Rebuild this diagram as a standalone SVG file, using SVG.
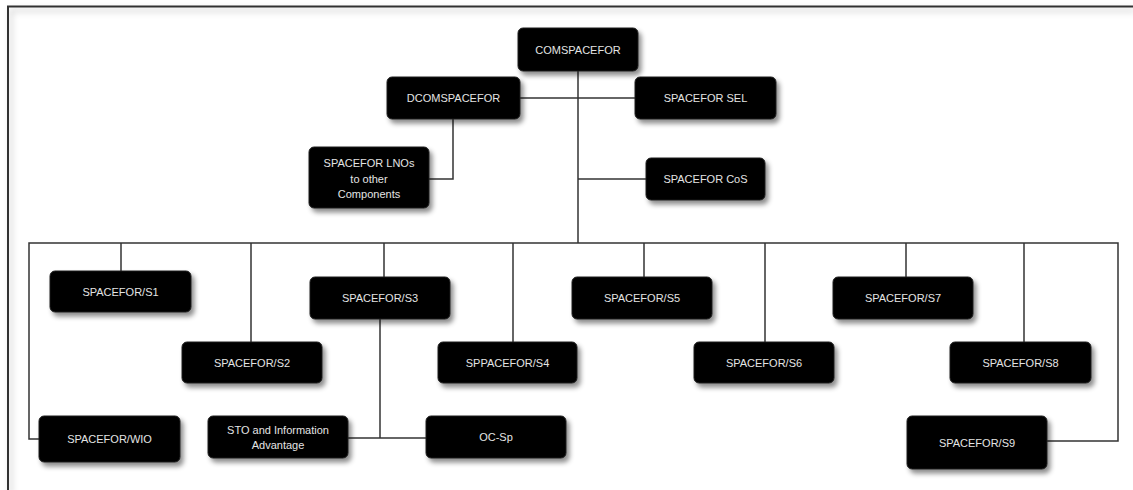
<svg xmlns="http://www.w3.org/2000/svg" width="1133" height="490" viewBox="0 0 1133 490">
<defs>
<filter id="sh" x="-20%" y="-30%" width="150%" height="180%">
<feDropShadow dx="3" dy="4" stdDeviation="2.5" flood-color="#000" flood-opacity="0.45"/>
</filter>
<filter id="fsh" x="-5%" y="-5%" width="110%" height="110%">
<feDropShadow dx="3" dy="4" stdDeviation="3" flood-color="#000" flood-opacity="0.25"/>
</filter>
</defs>
<style>
.box{fill:#000;stroke:#222;stroke-width:1;filter:url(#sh)}
.t{font-family:"Liberation Sans",Arial,sans-serif;font-size:11px;fill:#e4e4e4;text-anchor:middle}
.c{fill:none;stroke:#333;stroke-width:1.5}
</style>
<rect width="1133" height="490" fill="#fff"/>
<path d="M8,490 V6.5 H1133" fill="none" stroke="#333" stroke-width="2" filter="url(#fsh)"/>
<g id="connectors">
<path class="c" d="M578,71 V243"/>
<path class="c" d="M520,98 H635"/>
<path class="c" d="M453,119 V179 H429"/>
<path class="c" d="M578,179 H646"/>
<path class="c" d="M39,439 H29 V243 H1118 V441 H1047"/>
<path class="c" d="M121,243 V271"/>
<path class="c" d="M251,243 V342"/>
<path class="c" d="M384,243 V277"/>
<path class="c" d="M380,319 V438"/>
<path class="c" d="M348,438 H426"/>
<path class="c" d="M513,243 V342"/>
<path class="c" d="M644,243 V277"/>
<path class="c" d="M765,243 V342"/>
<path class="c" d="M906,243 V277"/>
<path class="c" d="M1024,243 V342"/>
</g>
<g id="comspacefor"><rect class="box" x="518" y="28" width="120" height="43" rx="5"/><text class="t" x="578" y="53.5">COMSPACEFOR</text></g>
<g id="dcomspacefor"><rect class="box" x="387" y="77" width="133" height="42" rx="5"/><text class="t" x="453.5" y="102">DCOMSPACEFOR</text></g>
<g id="spacefor-sel"><rect class="box" x="635" y="77" width="141" height="42" rx="5"/><text class="t" x="705.5" y="102">SPACEFOR SEL</text></g>
<g id="spacefor-lnos"><rect class="box" x="309" y="147" width="120" height="61" rx="5"/><text class="t" x="369" y="167">SPACEFOR LNOs</text><text class="t" x="369" y="182.5">to other</text><text class="t" x="369" y="198">Components</text></g>
<g id="spacefor-cos"><rect class="box" x="646" y="158" width="119" height="42" rx="5"/><text class="t" x="705.5" y="183">SPACEFOR CoS</text></g>
<g id="s1"><rect class="box" x="50" y="271" width="141" height="41" rx="5"/><text class="t" x="120.5" y="295.5">SPACEFOR/S1</text></g>
<g id="s2"><rect class="box" x="182" y="342" width="140" height="41" rx="5"/><text class="t" x="252" y="366.5">SPACEFOR/S2</text></g>
<g id="s3"><rect class="box" x="310" y="277" width="140" height="42" rx="5"/><text class="t" x="380" y="302">SPACEFOR/S3</text></g>
<g id="s4"><rect class="box" x="438" y="342" width="139" height="41" rx="5"/><text class="t" x="507.5" y="366.5">SPPACEFOR/S4</text></g>
<g id="s5"><rect class="box" x="572" y="277" width="140" height="42" rx="5"/><text class="t" x="642" y="302">SPACEFOR/S5</text></g>
<g id="s6"><rect class="box" x="694" y="342" width="140" height="41" rx="5"/><text class="t" x="764" y="366.5">SPACEFOR/S6</text></g>
<g id="s7"><rect class="box" x="833" y="277" width="140" height="42" rx="5"/><text class="t" x="903" y="302">SPACEFOR/S7</text></g>
<g id="s8"><rect class="box" x="950" y="342" width="141" height="41" rx="5"/><text class="t" x="1020.5" y="366.5">SPACEFOR/S8</text></g>
<g id="s9"><rect class="box" x="907" y="416" width="140" height="53" rx="5"/><text class="t" x="977" y="446.5">SPACEFOR/S9</text></g>
<g id="wio"><rect class="box" x="39" y="416" width="141" height="46" rx="5"/><text class="t" x="109.5" y="443">SPACEFOR/WIO</text></g>
<g id="sto"><rect class="box" x="208" y="416" width="140" height="42" rx="5"/><text class="t" x="278" y="434">STO and Information</text><text class="t" x="278" y="449">Advantage</text></g>
<g id="oc-sp"><rect class="box" x="426" y="416" width="140" height="42" rx="5"/><text class="t" x="496" y="441">OC-Sp</text></g>
</svg>
